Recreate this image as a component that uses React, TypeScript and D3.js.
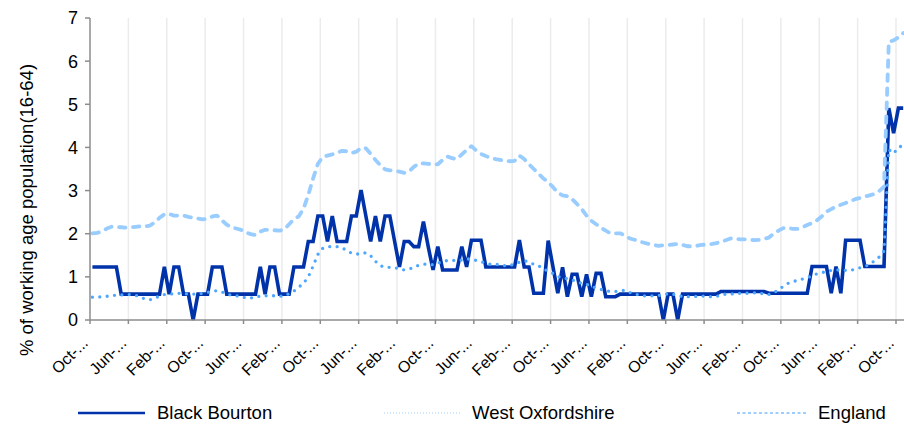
import React from "react";
import * as d3 from "d3";

// ---- data -------------------------------------------------------------
const seriesNames = ["Black Bourton", "West Oxfordshire", "England"];

const tickLabels = [
  "Oct-...", "Jun-...", "Feb-...", "Oct-...", "Jun-...", "Feb-...", "Oct-...", "Jun-...",
  "Feb-...", "Oct-...", "Jun-...", "Feb-...", "Oct-...", "Jun-...", "Feb-...", "Oct-...",
  "Jun-...", "Feb-...", "Oct-...", "Jun-...", "Feb-...", "Oct-...",
];

const yTicks = [0, 1, 2, 3, 4, 5, 6, 7];

const blackBourton = [
  1.23, 1.23, 1.23, 1.23, 1.23, 1.23, 0.6, 0.6, 0.6, 0.6, 0.6, 0.6, 0.6, 0.6, 0.6,
  1.23, 0.6, 1.23, 1.23, 0.6, 0.6, 0, 0.6, 0.6, 0.6,
  1.23, 1.23, 1.23, 0.6, 0.6, 0.6, 0.6, 0.6, 0.6, 0.6,
  1.23, 0.6, 1.23, 1.23, 0.6, 0.6, 0.6, 1.23, 1.23, 1.23,
  1.82, 1.82, 2.41, 2.41, 1.82, 2.41, 1.82, 1.82, 1.82, 2.41,
  2.41, 3.01, 2.41, 1.82, 2.41, 1.82, 2.41, 2.41, 1.82, 1.23,
  1.82, 1.82, 1.7, 1.7, 2.28, 1.7, 1.16, 1.7, 1.16, 1.16,
  1.16, 1.16, 1.7, 1.23, 1.85, 1.85, 1.85,
  1.23, 1.23, 1.23, 1.23, 1.23, 1.23, 1.23, 1.85, 1.23, 1.23, 0.62, 0.62, 0.62,
  1.84, 1.23, 0.62, 1.22, 0.54, 1.06, 1.06, 0.54, 1.06, 0.54,
  1.08, 1.08, 0.54, 0.54, 0.54,
  0.6, 0.6, 0.6, 0.6, 0.6, 0.6, 0.6, 0.6, 0.6, 0, 0.6, 0.6, 0,
  0.6, 0.6, 0.6, 0.6, 0.6, 0.6, 0.6, 0.6,
  0.66, 0.66, 0.66, 0.66, 0.66, 0.66, 0.66, 0.66, 0.66, 0.66,
  0.62, 0.62, 0.62, 0.62, 0.62, 0.62, 0.62, 0.62, 0.62,
  1.24, 1.24, 1.24, 1.24, 0.62, 1.24, 0.62, 1.85, 1.85, 1.85, 1.85,
  1.24, 1.24, 1.24, 1.24, 1.24, 4.91, 4.33, 4.91, 4.91,
];

const westOxfordshire = [
  0.53, 0.53, 0.54, 0.55, 0.56, 0.58, 0.58, 0.59, 0.59, 0.57,
  0.54, 0.48, 0.47, 0.5, 0.56, 0.59, 0.6, 0.61, 0.62, 0.61,
  0.6, 0.6, 0.6, 0.62, 0.64, 0.67, 0.68, 0.65, 0.61, 0.57,
  0.56, 0.55, 0.51, 0.51, 0.54, 0.55, 0.56, 0.57, 0.56, 0.55,
  0.56, 0.61, 0.67, 0.76, 0.85, 1.0, 1.25, 1.52, 1.66, 1.7,
  1.7, 1.7, 1.68, 1.61, 1.55, 1.53, 1.53, 1.56, 1.49, 1.36,
  1.26, 1.22, 1.22, 1.21, 1.19, 1.16, 1.18, 1.22, 1.27, 1.29,
  1.3, 1.28, 1.32, 1.35, 1.38, 1.38, 1.38, 1.39, 1.41, 1.42,
  1.38, 1.35, 1.32, 1.29, 1.29, 1.28, 1.26, 1.26, 1.3, 1.34,
  1.37, 1.35, 1.29, 1.26, 1.18, 1.14, 1.08, 1.01, 0.98, 0.96,
  0.93, 0.89, 0.85, 0.83, 0.77, 0.75, 0.71, 0.68, 0.66, 0.66,
  0.68, 0.69, 0.64, 0.6, 0.58, 0.56, 0.56, 0.56, 0.57, 0.58,
  0.61, 0.6, 0.56, 0.55, 0.54, 0.54, 0.55, 0.56, 0.54, 0.54,
  0.54, 0.58, 0.6, 0.6, 0.61, 0.62, 0.62, 0.62, 0.63, 0.62,
  0.61, 0.59, 0.63, 0.7, 0.78, 0.85, 0.89, 0.92, 0.95, 0.98,
  1.02, 1.07, 1.1, 1.12, 1.15, 1.16, 1.16, 1.15, 1.15, 1.18,
  1.21, 1.24, 1.29, 1.37, 1.46, 1.6, 3.95, 3.86, 4.0, 4.05,
];

const england = [
  2.01, 2.02, 2.05, 2.12, 2.16, 2.16, 2.15, 2.14, 2.15, 2.16,
  2.17, 2.17, 2.19, 2.26, 2.37, 2.45, 2.46, 2.42, 2.42, 2.42,
  2.39, 2.37, 2.35, 2.33, 2.35, 2.4, 2.42, 2.31, 2.21, 2.15,
  2.12, 2.09, 2.03, 1.99, 1.97, 2.05, 2.09, 2.09, 2.08, 2.07,
  2.1, 2.22, 2.34, 2.4, 2.58, 2.9, 3.28, 3.62, 3.78, 3.81,
  3.84, 3.88, 3.92, 3.91, 3.87, 3.9, 3.99, 3.98, 3.85, 3.71,
  3.59, 3.49, 3.47, 3.46, 3.44, 3.41, 3.44, 3.55, 3.63, 3.63,
  3.62, 3.6, 3.61, 3.71, 3.79, 3.75, 3.73, 3.84, 3.94, 4.03,
  3.93, 3.85, 3.8, 3.76, 3.73, 3.71, 3.69, 3.68, 3.69, 3.81,
  3.73, 3.61, 3.5, 3.39, 3.28, 3.2, 3.08, 2.95, 2.89, 2.87,
  2.8, 2.69, 2.57, 2.42, 2.3, 2.22, 2.14, 2.07, 2.01, 2.01,
  2.01, 1.96, 1.89, 1.86, 1.82, 1.79, 1.76, 1.74, 1.72, 1.73,
  1.74, 1.75, 1.76, 1.74, 1.71, 1.71, 1.72, 1.74, 1.75, 1.76,
  1.78, 1.81, 1.85, 1.89, 1.88, 1.87, 1.87, 1.86, 1.85, 1.86,
  1.88, 1.91, 2.0, 2.07, 2.13, 2.14, 2.11, 2.11, 2.15, 2.2,
  2.25, 2.31, 2.4, 2.51, 2.57, 2.63, 2.67, 2.71, 2.76, 2.8,
  2.83, 2.86, 2.89, 2.92, 2.99, 3.09, 6.45, 6.48, 6.55, 6.65,
];

// ---- layout -----------------------------------------------------------
const W = 904;
const H = 425;
const plotLeft = 90;
const plotTop = 18;
const plotBottom = 320;
const plotRight = 904;
const lastTick = 896;
const tickEvery = 8;
const FONT = "'Liberation Sans', Arial, Helvetica, sans-serif";

const COLORS = ["#0033AA", "#4DA6FF", "#99CCFF"];

export default function App() {
  const nTickSpan = (tickLabels.length - 1) * tickEvery;
  const x = d3.scaleLinear().domain([0, nTickSpan]).range([plotLeft, lastTick]);
  const y = d3.scaleLinear().domain([0, 7]).range([plotBottom, plotTop]);

  const line = d3
    .line<number>()
    .x((_, i) => x(i + 0.5))
    .y((d) => y(d));

  const tickPos = tickLabels.map((_, k) => x(k * tickEvery));

  const legend = [
    { name: seriesNames[0], lx1: 78, lx2: 145, tx: 157, color: COLORS[0], width: 2.5, dash: undefined },
    { name: seriesNames[1], lx1: 384, lx2: 462, tx: 472, color: "#9fd0ff", width: 1, dash: "1 2" },
    { name: seriesNames[2], lx1: 737, lx2: 806, tx: 818, color: "#7fbfff", width: 1.5, dash: "3 2.5" },
  ];

  return (
    <svg
      width={W}
      height={H}
      style={{ position: "absolute", left: 0, top: 0, background: "#fff" }}
      fontFamily={FONT}
    >
      {/* vertical gridlines */}
      {tickPos.slice(1).map((tx, k) => (
        <line key={"g" + k} x1={tx} x2={tx} y1={plotTop} y2={plotBottom} stroke="#ebebeb" strokeWidth={1.5} />
      ))}

      {/* series */}
      <path d={line(blackBourton) || ""} fill="none" stroke={COLORS[0]} strokeWidth={3.6} strokeLinejoin="miter" />
      <path
        d={line(westOxfordshire) || ""}
        fill="none"
        stroke={COLORS[1]}
        strokeWidth={3.3}
        strokeDasharray="0 7.4"
        strokeLinecap="round"
      />
      <path
        d={line(england) || ""}
        fill="none"
        stroke={COLORS[2]}
        strokeWidth={3.8}
        strokeDasharray="6.5 7.5"
        strokeLinecap="round"
        strokeLinejoin="round"
      />

      {/* axes */}
      <line x1={plotLeft} x2={plotLeft} y1={plotTop} y2={plotBottom} stroke="#8c8c8c" strokeWidth={1.5} />
      <line x1={plotLeft} x2={plotRight} y1={plotBottom} y2={plotBottom} stroke="#8c8c8c" strokeWidth={1.5} />
      {yTicks.map((t) => (
        <g key={"y" + t}>
          <line x1={plotLeft - 5} x2={plotLeft} y1={y(t)} y2={y(t)} stroke="#8c8c8c" strokeWidth={1.5} />
          <text x={plotLeft - 12} y={y(t)} dy="0.36em" textAnchor="end" fontSize={18} fill="#000">
            {t}
          </text>
        </g>
      ))}
      {tickPos.map((tx, k) => (
        <g key={"x" + k}>
          <line x1={tx} x2={tx} y1={plotBottom} y2={plotBottom + 4} stroke="#8c8c8c" strokeWidth={1.5} />
          <text
            transform={`translate(${tx - 1},${plotBottom + 24}) rotate(-45)`}
            textAnchor="end"
            fontSize={16}
            fill="#000"
          >
            {tickLabels[k]}
          </text>
        </g>
      ))}

      {/* y axis title */}
      <text
        transform={`translate(33,210) rotate(-90)`}
        textAnchor="middle"
        fontSize={18.5}
        fill="#000"
      >
        % of working age population(16-64)
      </text>

      {/* legend */}
      {legend.map((l) => (
        <g key={l.name}>
          <line
            x1={l.lx1}
            x2={l.lx2}
            y1={413}
            y2={413}
            stroke={l.color}
            strokeWidth={l.width}
            strokeDasharray={l.dash}
          />
          <text x={l.tx} y={413} dy="0.35em" fontSize={18.5} fill="#000">
            {l.name}
          </text>
        </g>
      ))}
    </svg>
  );
}
